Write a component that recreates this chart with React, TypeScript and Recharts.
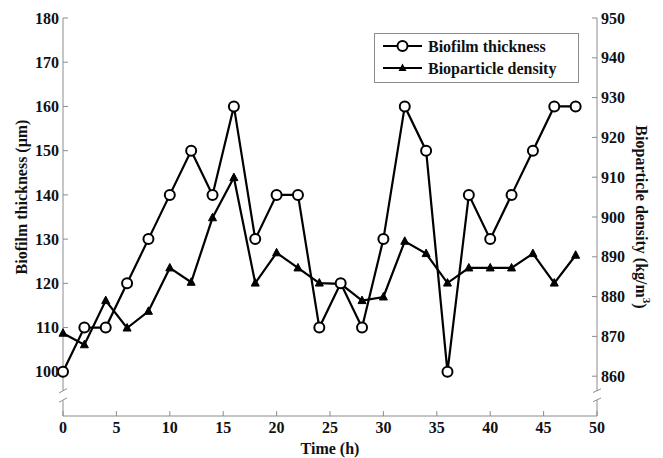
import React from 'react';
import { LineChart, Line, XAxis, YAxis, Legend, ReferenceLine } from 'recharts';

// sampling times (h)
const time = [0, 2, 4, 6, 8, 10, 12, 14, 16, 18, 20, 22, 24, 26, 28, 30, 32, 34, 36, 38, 40, 42, 44, 46, 48];
// biofilm thickness (um)
const thickness = [100, 110, 110, 120, 130, 140, 150, 140, 160, 130, 140, 140, 110, 120, 110, 130, 160, 150, 100, 140, 130, 140, 150, 160, 160];
// bioparticle density (kg/m3)
const density = [870.8, 867.9, 879.0, 872.1, 876.3, 887.2, 883.6, 899.8, 909.9, 883.4, 891.0, 887.2, 883.4, 883.2, 879.0, 879.9, 893.9, 890.8, 883.4, 887.2, 887.2, 887.2, 890.8, 883.4, 890.4];

const timeTicks = [0, 5, 10, 15, 20, 25, 30, 35, 40, 45, 50];
const thicknessTicks = [100, 110, 120, 130, 140, 150, 160, 170, 180];
const densityTicks = [860, 870, 880, 890, 900, 910, 920, 930, 940, 950];

const chartData = time.map((t, i) => ({ time: t, thickness: thickness[i], density: density[i] }));

const FONT = '"Liberation Serif", "Times New Roman", serif';
const AXIS = '#8c8c8c';
const tickStyle = { fill: '#111', fontFamily: FONT, fontWeight: 700, fontSize: 16 };

const CircleDot = (p: any) => {
  if (p.cx == null || p.cy == null) return <g key={p.index} />;
  return <circle key={p.index} cx={p.cx} cy={p.cy} r={5} fill="#fff" stroke="#000" strokeWidth={2} />;
};

const TriangleDot = (p: any) => {
  if (p.cx == null || p.cy == null) return <g key={p.index} />;
  const { cx, cy } = p;
  return (
    <polygon
      key={p.index}
      points={`${cx},${cy - 4.5} ${cx - 4},${cy + 3} ${cx + 4},${cy + 3}`}
      fill="#000"
      stroke="#000"
      strokeWidth={1}
    />
  );
};

const LegendBox = () => (
  <svg width={205} height={50} style={{ display: 'block' }}>
    <rect x={0.5} y={0.5} width={204} height={49} fill="#fff" stroke={AXIS} />
    <line x1={9} x2={48} y1={13} y2={13} stroke="#000" strokeWidth={2.2} />
    <circle cx={28.5} cy={13} r={5} fill="#fff" stroke="#000" strokeWidth={2} />
    <text x={54} y={13} dominantBaseline="central" style={tickStyle}>Biofilm thickness</text>
    <line x1={9} x2={48} y1={35} y2={35} stroke="#000" strokeWidth={2.2} />
    <polygon points="28.5,30.5 24.5,38 32.5,38" fill="#000" />
    <text x={54} y={35} dominantBaseline="central" style={tickStyle}>Bioparticle density</text>
  </svg>
);

const LeftTitle = (props: any) => {
  const { viewBox } = props;
  const x = viewBox.x + 21;
  const y = viewBox.y + 179;
  return (
    <text x={x} y={y} transform={`rotate(-90, ${x}, ${y})`} textAnchor="middle" dominantBaseline="central" style={tickStyle}>
      Biofilm thickness (μm)
    </text>
  );
};

const RightTitle = (props: any) => {
  const { viewBox } = props;
  const x = viewBox.x + 44;
  const y = viewBox.y + 199;
  return (
    <text x={x} y={y} transform={`rotate(90, ${x}, ${y})`} textAnchor="middle" dominantBaseline="central" style={tickStyle}>
      Bioparticle density (kg/m
      <tspan dy={-6} fontSize={11}>3</tspan>
      <tspan dy={6}>)</tspan>
    </text>
  );
};

export default function App() {
  return (
    <div style={{ position: 'absolute', left: 0, top: 0, background: '#fff' }}>
      <LineChart width={663} height={458} data={chartData} margin={{ top: 18, right: 0, bottom: 0, left: 0 }}>
        <XAxis
          xAxisId="bottom"
          dataKey="time"
          type="number"
          domain={[0, 50]}
          ticks={timeTicks}
          height={42}
          stroke={AXIS}
          tickSize={-5}
          tickMargin={11}
          tick={tickStyle}
          label={{ value: 'Time (h)', position: 'insideBottom', offset: 4, style: tickStyle }}
        />
        <XAxis
          xAxisId="top"
          orientation="top"
          dataKey="time"
          type="number"
          domain={[0, 50]}
          ticks={timeTicks}
          height={0}
          stroke={AXIS}
          tickSize={-5}
          tick={false}
        />
        <YAxis
          yAxisId="left"
          type="number"
          domain={[90, 180]}
          ticks={thicknessTicks}
          width={63}
          axisLine={false}
          stroke={AXIS}
          tickSize={-5}
          tickMargin={9}
          tick={tickStyle}
          label={<LeftTitle />}
        />
        <YAxis
          yAxisId="right"
          orientation="right"
          type="number"
          domain={[850, 950]}
          ticks={densityTicks}
          width={66}
          axisLine={false}
          stroke={AXIS}
          tickSize={-5}
          tickMargin={9}
          tick={tickStyle}
          label={<RightTitle />}
        />
        {/* left axis line with break */}
        <ReferenceLine xAxisId="bottom" yAxisId="left" segment={[{ x: 0, y: 90 }, { x: 0, y: 93.5 }]} stroke={AXIS} ifOverflow="visible" />
        <ReferenceLine xAxisId="bottom" yAxisId="left" segment={[{ x: 0, y: 95.8 }, { x: 0, y: 180 }]} stroke={AXIS} ifOverflow="visible" />
        <ReferenceLine xAxisId="bottom" yAxisId="left" segment={[{ x: -0.37, y: 93.1 }, { x: 0.37, y: 94.1 }]} stroke={AXIS} ifOverflow="visible" />
        <ReferenceLine xAxisId="bottom" yAxisId="left" segment={[{ x: -0.37, y: 95.2 }, { x: 0.37, y: 96.2 }]} stroke={AXIS} ifOverflow="visible" />
        {/* right axis line with break */}
        <ReferenceLine xAxisId="bottom" yAxisId="right" segment={[{ x: 50, y: 850 }, { x: 50, y: 854 }]} stroke={AXIS} ifOverflow="visible" />
        <ReferenceLine xAxisId="bottom" yAxisId="right" segment={[{ x: 50, y: 856.3 }, { x: 50, y: 950 }]} stroke={AXIS} ifOverflow="visible" />
        <ReferenceLine xAxisId="bottom" yAxisId="right" segment={[{ x: 49.63, y: 853.6 }, { x: 50.37, y: 854.5 }]} stroke={AXIS} ifOverflow="visible" />
        <ReferenceLine xAxisId="bottom" yAxisId="right" segment={[{ x: 49.63, y: 855.9 }, { x: 50.37, y: 856.8 }]} stroke={AXIS} ifOverflow="visible" />
        <Line
          xAxisId="bottom"
          yAxisId="right"
          dataKey="density"
          stroke="#000"
          strokeWidth={2.2}
          dot={TriangleDot}
          isAnimationActive={false}
        />
        <Line
          xAxisId="bottom"
          yAxisId="left"
          dataKey="thickness"
          stroke="#000"
          strokeWidth={2.2}
          dot={CircleDot}
          isAnimationActive={false}
        />
        <Legend
          layout="horizontal"
          verticalAlign="middle"
          content={LegendBox}
          wrapperStyle={{ position: 'absolute', left: 374, top: 33, width: 205, height: 50 }}
        />
      </LineChart>
    </div>
  );
}
